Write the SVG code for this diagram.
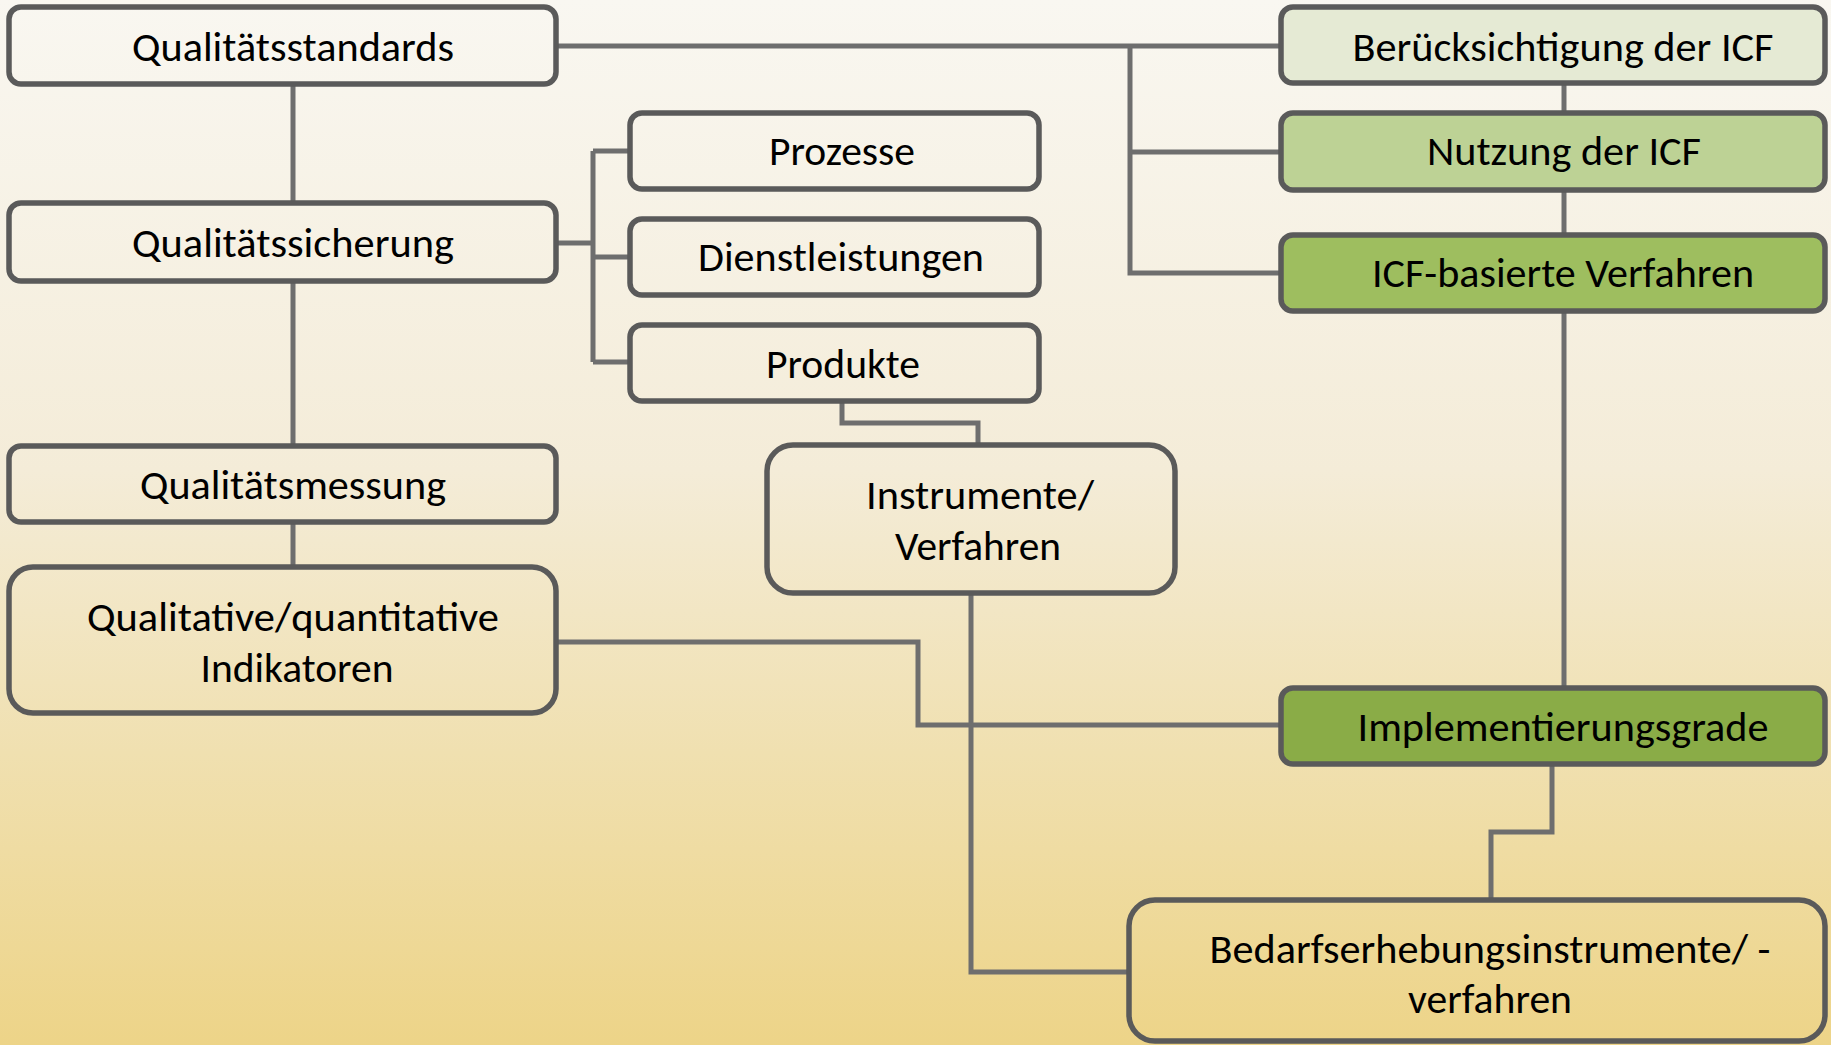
<svg xmlns="http://www.w3.org/2000/svg" width="1831" height="1045" viewBox="0 0 1831 1045">
<defs>
<linearGradient id="bg" x1="0" y1="0" x2="0" y2="1">
<stop offset="0" stop-color="#f9f7f1"/>
<stop offset="0.45" stop-color="#f4ecd8"/>
<stop offset="0.72" stop-color="#f0e0b0"/>
<stop offset="1" stop-color="#edd488"/>
</linearGradient>
</defs>
<style>
.box{fill:none;stroke:#5a5a5a;stroke-width:5.5}
.con{fill:none;stroke:#6e6e6e;stroke-width:5}
.t{font-family:Carlito,Calibri,Lato,"Liberation Sans",sans-serif;font-size:40px;fill:#000;text-anchor:middle}
</style>
<rect x="0" y="0" width="1831" height="1045" fill="url(#bg)"/>
<g id="connectors">
<path class="con" d="M293 84V203"/>
<path class="con" d="M293 281V446"/>
<path class="con" d="M293 522V567"/>
<path class="con" d="M556 46H1281"/>
<path class="con" d="M1130 46V273H1281M1130 152H1281"/>
<path class="con" d="M1564 83V113"/>
<path class="con" d="M1564 190V235"/>
<path class="con" d="M1564 311V688"/>
<path class="con" d="M556 243H593M593 151V362M593 151H630M593 257H630M593 362H630"/>
<path class="con" d="M842 401V423H978V445"/>
<path class="con" d="M971 593V972H1129"/>
<path class="con" d="M556 642H918V725H1281"/>
<path class="con" d="M1552 764V832H1491V900"/>
</g>
<g id="n-qualitaetsstandards">
<rect class="box" x="9" y="7" width="547" height="77" rx="12"/>
<text class="t" x="293" y="61" textLength="322" lengthAdjust="spacingAndGlyphs">Qualitätsstandards</text>
</g>
<g id="n-qualitaetssicherung">
<rect class="box" x="9" y="203" width="547" height="78" rx="12"/>
<text class="t" x="293" y="257" textLength="322" lengthAdjust="spacingAndGlyphs">Qualitätssicherung</text>
</g>
<g id="n-qualitaetsmessung">
<rect class="box" x="9" y="446" width="547" height="76" rx="12"/>
<text class="t" x="293" y="499" textLength="306" lengthAdjust="spacingAndGlyphs">Qualitätsmessung</text>
</g>
<g id="n-indikatoren">
<rect class="box" x="9" y="567" width="547" height="146" rx="24"/>
<text class="t" x="293" y="631" textLength="412" lengthAdjust="spacingAndGlyphs">Qualitative/quantitative</text>
<text class="t" x="297" y="682" textLength="193" lengthAdjust="spacingAndGlyphs">Indikatoren</text>
</g>
<g id="n-prozesse">
<rect class="box" x="630" y="113" width="409" height="76" rx="12"/>
<text class="t" x="842" y="165" textLength="146" lengthAdjust="spacingAndGlyphs">Prozesse</text>
</g>
<g id="n-dienstleistungen">
<rect class="box" x="630" y="219" width="409" height="76" rx="12"/>
<text class="t" x="841" y="271" textLength="286" lengthAdjust="spacingAndGlyphs">Dienstleistungen</text>
</g>
<g id="n-produkte">
<rect class="box" x="630" y="325" width="409" height="76" rx="12"/>
<text class="t" x="843" y="378" textLength="154" lengthAdjust="spacingAndGlyphs">Produkte</text>
</g>
<g id="n-instrumente">
<rect class="box" x="767" y="445" width="408" height="148" rx="26"/>
<text class="t" x="980" y="509" textLength="228" lengthAdjust="spacingAndGlyphs">Instrumente/</text>
<text class="t" x="978" y="560" textLength="166" lengthAdjust="spacingAndGlyphs">Verfahren</text>
</g>
<g id="n-beruecksichtigung">
<rect class="box" x="1281" y="7" width="544" height="76" rx="12" style="fill:#e5ead4"/>
<text class="t" x="1563" y="61" textLength="421" lengthAdjust="spacingAndGlyphs">Berücksichtigung der ICF</text>
</g>
<g id="n-nutzung">
<rect class="box" x="1281" y="113" width="544" height="77" rx="12" style="fill:#bdd295"/>
<text class="t" x="1564" y="165" textLength="274" lengthAdjust="spacingAndGlyphs">Nutzung der ICF</text>
</g>
<g id="n-icf-verfahren">
<rect class="box" x="1281" y="235" width="544" height="76" rx="12" style="fill:#9ebe5f"/>
<text class="t" x="1563" y="287" textLength="382" lengthAdjust="spacingAndGlyphs">ICF-basierte Verfahren</text>
</g>
<g id="n-implementierungsgrade">
<rect class="box" x="1281" y="688" width="544" height="76" rx="12" style="fill:#8aac47"/>
<text class="t" x="1563" y="741" textLength="411" lengthAdjust="spacingAndGlyphs">Implementierungsgrade</text>
</g>
<g id="n-bedarfserhebung">
<rect class="box" x="1129" y="900" width="696" height="141" rx="26"/>
<text class="t" x="1490" y="963" textLength="561" lengthAdjust="spacingAndGlyphs">Bedarfserhebungsinstrumente/ -</text>
<text class="t" x="1490" y="1013" textLength="164" lengthAdjust="spacingAndGlyphs">verfahren</text>
</g>
</svg>
